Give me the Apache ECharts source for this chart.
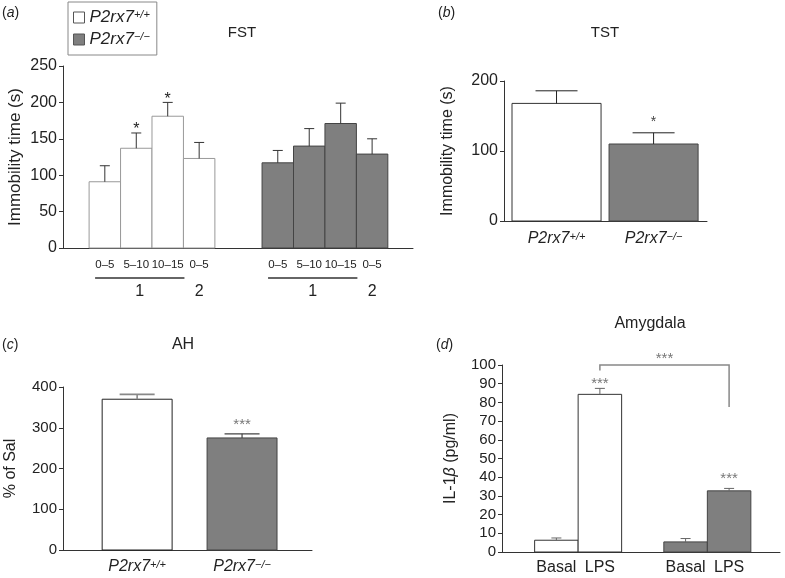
<!DOCTYPE html>
<html><head><meta charset="utf-8">
<script src="https://cdn.jsdelivr.net/npm/echarts@6/dist/echarts.min.js"></script>
<style>html,body{margin:0;padding:0;background:#fff}#c{width:785px;height:578px}</style>
</head><body><div id="c"></div><script>
const FONT = '"Liberation Sans", Arial, sans-serif';

// ---------------- data ----------------
// (a) FST
const fstIntervals = ['0–5', '5–10', '10–15', '0–5'];
const fstSessionLabels = ['1', '2'];
const fstSessionOfInterval = [0, 0, 0, 1];
const fstWT = [91, 137, 181, 123];
const fstWTErr = [22, 21, 19, 22];
const fstWTSig = ['', '*', '*', ''];
const fstKO = [117, 140, 171, 129];
const fstKOErr = [17, 24, 28, 21];
const fstKOSig = ['', '', '', ''];
// genotypes
const genotypeBase = ['P2rx7', 'P2rx7'];
const genotypeSup = ['+/+', '−/−'];
const genotypeNames = ['P2rx7+/+', 'P2rx7−/−'];
// (b) TST
const tstValues = [168, 110];
const tstErr = [18, 16];
const tstSig = ['', '*'];
// (c) AH
const ahValues = [370, 275];
const ahErr = [12, 10];
const ahSig = ['', '***'];
// (d) Amygdala IL-1beta
const il1bConditions = ['Basal', 'LPS'];
const il1bWT = [6.3, 84.3];
const il1bWTErr = [1.2, 3.2];
const il1bWTSig = ['', '***'];
const il1bKO = [5.4, 32.7];
const il1bKOErr = [1.8, 1.3];
const il1bKOSig = ['', '***'];
const il1bBetweenSig = '***';
// axis scales
const fstTicks = [0, 50, 100, 150, 200, 250];
const tstTicks = [0, 100, 200];
const ahTicks = [0, 100, 200, 300, 400];
const il1bTicks = [0, 10, 20, 30, 40, 50, 60, 70, 80, 90, 100];

// ---------------- layout helpers (bar centres in bar-width units) ----------------
const xa = (g, i) => g * 5.5 + i;
const xb = i => i * 1.09;
const xc = i => i * 1.5;
const xd = (g, i) => g * 2.97 + i;

const WHITE = '#ffffff', GREY = '#7f7f7f';

function barSeries(o) {
  return {
    type: 'custom', name: o.name, xAxisIndex: o.grid, yAxisIndex: o.grid,
    itemStyle: { color: o.fill, borderColor: o.stroke },
    silent: true,
    encode: { x: 0, y: 1 },
    data: o.values.map((v, i) => [o.xs[i], v, o.errs[i], i]),
    renderItem: function (params, api) {
      const x = api.value(0), v = api.value(1), e = api.value(2), idx = api.value(3);
      const p0 = api.coord([x - 0.5, 0]);
      const p1 = api.coord([x + 0.5, v]);
      const pt = api.coord([x, v]);
      const pe = api.coord([x, v + e]);
      const ch = [
        { type: 'rect', shape: { x: p0[0], y: p1[1], width: p1[0] - p0[0], height: p0[1] - p1[1] },
          style: { fill: o.fill, stroke: o.stroke, lineWidth: 1 } },
        { type: 'line', shape: { x1: pt[0], y1: pt[1], x2: pe[0], y2: pe[1] },
          style: { stroke: o.errColor, lineWidth: o.errWidth || 1 } },
        { type: 'line', shape: { x1: pe[0] - o.capHalf, y1: pe[1], x2: pe[0] + o.capHalf, y2: pe[1] },
          style: { stroke: o.errColor, lineWidth: o.errWidth || 1 } }
      ];
      const s = o.sig[idx];
      if (s) {
        const cy = pe[1] - o.starGap + 0.3 * o.starSize;
        ch.push({ type: 'text', x: pe[0], y: cy,
          style: { text: s, fill: o.starColor, font: o.starSize + 'px ' + FONT,
            align: 'center', verticalAlign: 'middle', textAlign: 'center', textVerticalAlign: 'middle' } });
      }
      return { type: 'group', children: ch };
    }
  };
}

function genoLabel(i, size, supSize) {
  return { text: '{i|' + genotypeBase[i] + '}{s|' + genotypeSup[i] + '}',
    rich: { i: { fontStyle: 'italic', fontSize: size, fontFamily: FONT, fill: '#222', color: '#222' },
            s: { fontStyle: 'italic', fontSize: supSize, fontFamily: FONT, fill: '#222', color: '#222', verticalAlign: 'top' } } };
}

function labelSeries(grid, xs, makeText, dy) {
  return {
    type: 'custom', xAxisIndex: grid, yAxisIndex: grid, silent: true,
    data: xs.map((x, i) => [x, 0, i]), encode: { x: 0, y: 1 },
    renderItem: function (params, api) {
      const p = api.coord([api.value(0), 0]);
      const t = makeText(api.value(2));
      return { type: 'text', x: p[0], y: p[1] + dy,
        style: Object.assign({ fill: '#222', align: 'center', verticalAlign: 'middle', textAlign: 'center', textVerticalAlign: 'middle' }, t) };
    }
  };
}

const yAxisBase = (grid, ticks, fs) => ({
  type: 'value', gridIndex: grid, min: ticks[0], max: ticks[ticks.length - 1], interval: ticks[1] - ticks[0],
  axisLine: { show: true, onZero: false, lineStyle: { color: '#333', width: 1 } },
  axisTick: { show: true, length: 4, lineStyle: { color: '#333' } },
  axisLabel: { color: '#222', fontSize: fs, fontFamily: FONT, margin: 6 },
  splitLine: { show: false },
  nameLocation: 'middle', nameRotate: 90
});
const xAxisBase = (grid, min, max) => ({
  type: 'value', gridIndex: grid, min: min, max: max,
  axisLine: { show: true, onZero: false, lineStyle: { color: '#333', width: 1 } },
  axisTick: { show: false }, axisLabel: { show: false }, splitLine: { show: false }
});

const chart = echarts.init(document.getElementById('c'), null, { renderer: 'canvas' });

const fstWTx = fstWT.map((_, i) => xa(0, i));
const fstKOx = fstKO.map((_, i) => xa(1, i));
const il1bWTx = il1bWT.map((_, i) => xd(0, i));
const il1bKOx = il1bKO.map((_, i) => xd(1, i));

function txt(x, y, text, size, extra) {
  return { type: 'text', x: x, y: y, silent: true,
    style: Object.assign({ text: text, fill: '#222', font: size + 'px ' + FONT,
      align: 'center', verticalAlign: 'middle', textAlign: 'center', textVerticalAlign: 'middle' }, extra || {}) };
}
function panelLabel(x, y, letter) {
  return { type: 'text', x: x, y: y, silent: true,
    style: { text: '{n|(}{l|' + letter + '}{n|)}', align: 'left', verticalAlign: 'middle', textAlign: 'left', textVerticalAlign: 'middle',
      rich: { n: { fontSize: 14, fontFamily: FONT, fill: '#222', color: '#222' },
              l: { fontSize: 14, fontFamily: FONT, fontStyle: 'italic', fill: '#222', color: '#222' } } } };
}

const option = {
  animation: false,
  backgroundColor: '#fff',
  textStyle: { fontFamily: FONT },
  legend: {
    orient: 'vertical', left: 68, top: 2, selectedMode: false,
    borderColor: '#888', borderWidth: 1, padding: [7, 7, 7, 5], itemGap: 5,
    itemWidth: 11, itemHeight: 11,
    data: [
      { name: genotypeNames[0], icon: 'rect', itemStyle: { color: WHITE, borderColor: '#555', borderWidth: 1 } },
      { name: genotypeNames[1], icon: 'rect', itemStyle: { color: GREY, borderColor: '#555', borderWidth: 1 } }
    ],
    formatter: function (name) {
      const i = genotypeNames.indexOf(name);
      return '{i|' + genotypeBase[i] + '}{s|' + genotypeSup[i] + '}';
    },
    textStyle: { rich: {
      i: { fontStyle: 'italic', fontSize: 17, fontFamily: FONT, color: '#222' },
      s: { fontStyle: 'italic', fontSize: 11, fontFamily: FONT, color: '#222', verticalAlign: 'top' } } }
  },
  grid: [
    { left: 63, top: 66, width: 350, height: 182 },
    { left: 504, top: 81, width: 203, height: 140 },
    { left: 63, top: 387, width: 249, height: 163 },
    { left: 502, top: 365, width: 278, height: 187 }
  ],
  xAxis: [
    xAxisBase(0, -1.33, 9.8),
    xAxisBase(1, -0.59, 1.69),
    xAxisBase(2, -1.06, 2.5),
    xAxisBase(3, -1.25, 5.14)
  ],
  yAxis: [
    Object.assign(yAxisBase(0, fstTicks, 16), { name: 'Immobility time (s)', nameGap: 39,
      nameTextStyle: { fontSize: 17, color: '#222', fontFamily: FONT } }),
    Object.assign(yAxisBase(1, tstTicks, 16), { name: 'Immobility time (s)', nameGap: 48,
      nameTextStyle: { fontSize: 16, color: '#222', fontFamily: FONT } }),
    Object.assign(yAxisBase(2, ahTicks, 15), { name: '% of Sal', nameGap: 44,
      nameTextStyle: { fontSize: 16, color: '#222', fontFamily: FONT } }),
    Object.assign(yAxisBase(3, il1bTicks, 15), { name: '{n|IL-1}{b|β}{n| (pg/ml)}', nameGap: 43,
      nameTextStyle: { fontSize: 16, color: '#222', fontFamily: FONT,
        rich: { n: { fontSize: 16, color: '#222', fontFamily: FONT }, b: { fontSize: 16, color: '#222', fontFamily: FONT, fontStyle: 'italic' } } } })
  ],
  graphic: [
    panelLabel(2, 13, 'a'),
    panelLabel(438, 13, 'b'),
    panelLabel(2, 345, 'c'),
    panelLabel(436, 345, 'd'),
    txt(242, 33, 'FST', 15),
    txt(605, 33, 'TST', 15),
    txt(183, 345, 'AH', 16),
    txt(650, 324, 'Amygdala', 16)
  ],
  series: [
    // (a)
    barSeries({ name: genotypeNames[0], grid: 0, xs: fstWTx, values: fstWT, errs: fstWTErr, sig: fstWTSig,
      fill: WHITE, stroke: '#999', errColor: '#333', capHalf: 5, starColor: '#222', starSize: 16, starGap: 8 }),
    barSeries({ name: genotypeNames[1], grid: 0, xs: fstKOx, values: fstKO, errs: fstKOErr, sig: fstKOSig,
      fill: GREY, stroke: '#444', errColor: '#333', capHalf: 5, starColor: '#222', starSize: 16, starGap: 8 }),
    labelSeries(0, fstWTx.concat(fstKOx), i => ({ text: fstIntervals[i % fstIntervals.length], font: '11.5px ' + FONT }), 17),
    {
      type: 'custom', xAxisIndex: 0, yAxisIndex: 0, silent: true,
      data: [[0, 0, 0], [0, 0, 1]], encode: { x: 0, y: 1 },
      renderItem: function (params, api) {
        const g = api.value(2);
        const ch = [];
        fstSessionLabels.forEach((lab, s) => {
          const idx = fstSessionOfInterval.map((v, i) => v === s ? i : -1).filter(i => i >= 0);
          const first = idx[0], last = idx[idx.length - 1];
          const pL = api.coord([xa(g, first) - 0.5, 0]);
          const pR = api.coord([xa(g, last) + 0.5, 0]);
          let cx;
          if (idx.length > 1) {
            const x1 = pL[0] + 6, x2 = pR[0] + 1;
            ch.push({ type: 'line', shape: { x1: x1, y1: pL[1] + 30, x2: x2, y2: pL[1] + 30 },
              style: { stroke: '#333', lineWidth: 1.3 } });
            cx = (x1 + x2) / 2;
          } else {
            cx = api.coord([xa(g, first), 0])[0];
          }
          ch.push({ type: 'text', x: cx, y: pL[1] + 44,
            style: { text: lab, fill: '#222', font: '16px ' + FONT, align: 'center', verticalAlign: 'middle', textAlign: 'center', textVerticalAlign: 'middle' } });
        });
        return { type: 'group', children: ch };
      }
    },
    // (b)
    barSeries({ name: 'TST ' + genotypeNames[0], grid: 1, xs: [xb(0)], values: [tstValues[0]], errs: [tstErr[0]], sig: [tstSig[0]],
      fill: WHITE, stroke: '#333', errColor: '#222', capHalf: 21, starColor: '#444', starSize: 14, starGap: 15 }),
    barSeries({ name: 'TST ' + genotypeNames[1], grid: 1, xs: [xb(1)], values: [tstValues[1]], errs: [tstErr[1]], sig: [tstSig[1]],
      fill: GREY, stroke: '#444', errColor: '#222', capHalf: 21, starColor: '#444', starSize: 14, starGap: 15 }),
    labelSeries(1, [xb(0), xb(1)], i => genoLabel(i, 16, 11), 18),
    // (c)
    barSeries({ name: 'AH ' + genotypeNames[0], grid: 2, xs: [xc(0)], values: [ahValues[0]], errs: [ahErr[0]], sig: [ahSig[0]],
      fill: WHITE, stroke: '#222', errColor: '#888', errWidth: 1.6, capHalf: 17.5, starColor: '#777', starSize: 15, starGap: 14 }),
    barSeries({ name: 'AH ' + genotypeNames[1], grid: 2, xs: [xc(1)], values: [ahValues[1]], errs: [ahErr[1]], sig: [ahSig[1]],
      fill: GREY, stroke: '#444', errColor: '#444', errWidth: 1.2, capHalf: 17.5, starColor: '#777', starSize: 15, starGap: 14 }),
    labelSeries(2, [xc(0), xc(1)], i => genoLabel(i, 16, 11), 17),
    // (d)
    barSeries({ name: 'IL ' + genotypeNames[0], grid: 3, xs: il1bWTx, values: il1bWT, errs: il1bWTErr, sig: il1bWTSig,
      fill: WHITE, stroke: '#333', errColor: '#666', capHalf: 5, starColor: '#777', starSize: 15, starGap: 9 }),
    barSeries({ name: 'IL ' + genotypeNames[1], grid: 3, xs: il1bKOx, values: il1bKO, errs: il1bKOErr, sig: il1bKOSig,
      fill: GREY, stroke: '#444', errColor: '#666', capHalf: 5, starColor: '#777', starSize: 15, starGap: 14 }),
    labelSeries(3, il1bWTx.concat(il1bKOx), i => ({ text: il1bConditions[i % il1bConditions.length], font: '16px ' + FONT }), 16),
    {
      type: 'custom', xAxisIndex: 3, yAxisIndex: 3, silent: true,
      data: [[xd(0, 1), 100]], encode: { x: 0, y: 1 },
      renderItem: function (params, api) {
        const xl = xd(0, 1), xr = xd(1, 1);
        const a = api.coord([xl, 97]), b = api.coord([xl, 100]), c = api.coord([xr, 100]), d = api.coord([xr, 77.5]);
        return { type: 'group', children: [
          { type: 'polyline', shape: { points: [a, b, c, d] }, style: { stroke: '#888', lineWidth: 1.5, fill: null } },
          { type: 'text', x: (b[0] + c[0]) / 2, y: b[1] - 11 + 4.5,
            style: { text: il1bBetweenSig, fill: '#777', font: '15px ' + FONT, align: 'center', verticalAlign: 'middle', textAlign: 'center', textVerticalAlign: 'middle' } }
        ] };
      }
    }
  ]
};
chart.setOption(option);
</script></body></html>
